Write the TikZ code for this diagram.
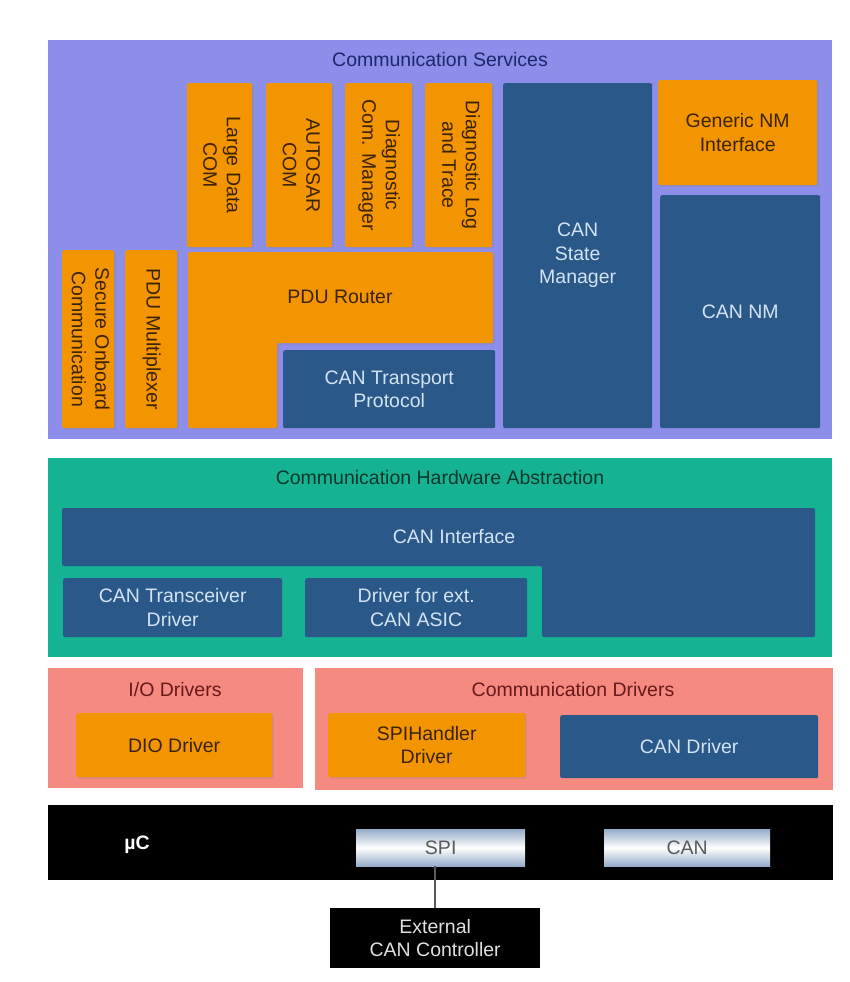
\documentclass[tikz,border=0pt]{standalone}
\usepackage{fontspec}
\setmainfont{Liberation Sans}
\usetikzlibrary{shadows}
\definecolor{lav}{RGB}{141,141,234}
\definecolor{orng}{RGB}{242,149,0}
\definecolor{blu}{RGB}{42,88,136}
\definecolor{teal}{RGB}{22,178,148}
\definecolor{pink}{RGB}{245,138,128}
\definecolor{otext}{RGB}{60,35,5}
\definecolor{btext}{RGB}{210,228,244}
\definecolor{navy}{RGB}{30,40,105}
\definecolor{dgreen}{RGB}{10,55,42}
\definecolor{dred}{RGB}{105,25,25}
\definecolor{spishade}{RGB}{150,172,200}
\newcommand{\bxfont}{\fontsize{19.5}{23.5}\selectfont}
\newcommand{\vtext}[1]{\rotatebox{-90}{\begin{tabular}{@{}c@{}}#1\end{tabular}}}
\tikzset{
  layerbox/.style={rectangle, anchor=north west, inner sep=0pt},
  obox/.style={rectangle, anchor=north west, inner sep=0pt, fill=orng, rounded corners=2pt, text=otext, align=center, font=\bxfont,
    drop shadow={opacity=0.25, shadow xshift=1.5pt, shadow yshift=-1.5pt}},
  bbox/.style={rectangle, anchor=north west, inner sep=0pt, fill=blu, rounded corners=2pt, text=btext, align=center, font=\bxfont},
  ttl/.style={font=\bxfont, inner sep=0pt},
  chip/.style={rectangle, anchor=north west, inner sep=0pt, top color=spishade, bottom color=spishade, middle color=white, text=black!65, font=\bxfont},
}
\begin{document}
\begin{tikzpicture}[x=1pt,y=-1pt]
\useasboundingbox (0,0) rectangle (850,982);
% Communication Services
\node[layerbox, fill=lav, minimum width=784pt, minimum height=399pt] (cs) at (48,40) {};
\node[ttl, text=navy] (cst) at (440,60) {Communication Services};
\node[obox, minimum width=65pt, minimum height=164pt] (ldc) at (187,83) {\vtext{Large Data\\COM}};
\node[obox, minimum width=66pt, minimum height=164pt] (acom) at (266,83) {\vtext{AUTOSAR\\COM}};
\node[obox, minimum width=67pt, minimum height=164pt] (dcm) at (345,83) {\vtext{Diagnostic\\Com. Manager}};
\node[obox, minimum width=67pt, minimum height=164pt] (dlt) at (425,83) {\vtext{Diagnostic Log\\and Trace}};
\node[obox, minimum width=52pt, minimum height=178pt] (soc) at (62,250) {\vtext{Secure Onboard\\Communication}};
\node[obox, minimum width=52pt, minimum height=178pt] (pdum) at (125,250) {\vtext{PDU Multiplexer}};
\fill[orng, rounded corners=2pt, drop shadow={opacity=0.25, shadow xshift=1.5pt, shadow yshift=-1.5pt}]
  (188,252) -- (493,252) -- (493,343) -- (277,343) -- (277,428) -- (188,428) -- cycle;
\node[ttl, text=otext] (pdur) at (340,297) {PDU Router};
\node[bbox, minimum width=212pt, minimum height=78pt] (cantp) at (283,350) {CAN Transport\\Protocol};
\node[bbox, minimum width=149pt, minimum height=345pt] (cansm) at (503,83) {CAN\\State\\Manager};
\node[obox, minimum width=159pt, minimum height=105pt] (gnm) at (658,80) {Generic NM\\Interface};
\node[bbox, minimum width=160pt, minimum height=233pt] (cannm) at (660,195) {CAN NM};
% Communication Hardware Abstraction
\node[layerbox, fill=teal, minimum width=784pt, minimum height=199pt] (cha) at (48,458) {};
\node[ttl, text=dgreen] (chat) at (440,478) {Communication Hardware Abstraction};
\fill[blu, rounded corners=2pt] (62,508) -- (815,508) -- (815,637) -- (542,637) -- (542,566) -- (62,566) -- cycle;
\node[ttl, text=btext] (canif) at (454,537) {CAN Interface};
\node[bbox, minimum width=219pt, minimum height=59pt] (cantr) at (63,578) {CAN Transceiver\\Driver};
\node[bbox, minimum width=222pt, minimum height=59pt] (dext) at (305,578) {Driver for ext.\\CAN ASIC};
% Drivers
\node[layerbox, fill=pink, minimum width=255pt, minimum height=120pt] (iod) at (48,668) {};
\node[ttl, text=dred] (iodt) at (175,690) {I/O Drivers};
\node[layerbox, fill=pink, minimum width=518pt, minimum height=122pt] (comd) at (315,668) {};
\node[ttl, text=dred] (comdt) at (573,690) {Communication Drivers};
\node[obox, minimum width=196pt, minimum height=64pt] (dio) at (76,713) {DIO Driver};
\node[obox, minimum width=197pt, minimum height=64pt] (spih) at (328,713) {SPIHandler\\Driver};
\node[bbox, minimum width=258pt, minimum height=63pt] (cand) at (560,715) {CAN Driver};
% Microcontroller
\node[layerbox, fill=black, minimum width=785pt, minimum height=75pt] (uc) at (48,805) {};
\node[ttl, text=white, font=\bfseries\bxfont] (uct) at (137,845) {µC};
\node[chip, minimum width=169pt, minimum height=37pt] (spi) at (356,829) {SPI};
\node[chip, minimum width=166pt, minimum height=37pt] (can) at (604,829) {CAN};
\node[layerbox, fill=black, minimum width=210pt, minimum height=60pt, text=black!12, align=center, font=\bxfont] (ext) at (330,908) {External\\CAN Controller};
\draw[black!65, line width=1.5pt] (spi.south -| ext.north) -- (ext.north);
\end{tikzpicture}
\end{document}
